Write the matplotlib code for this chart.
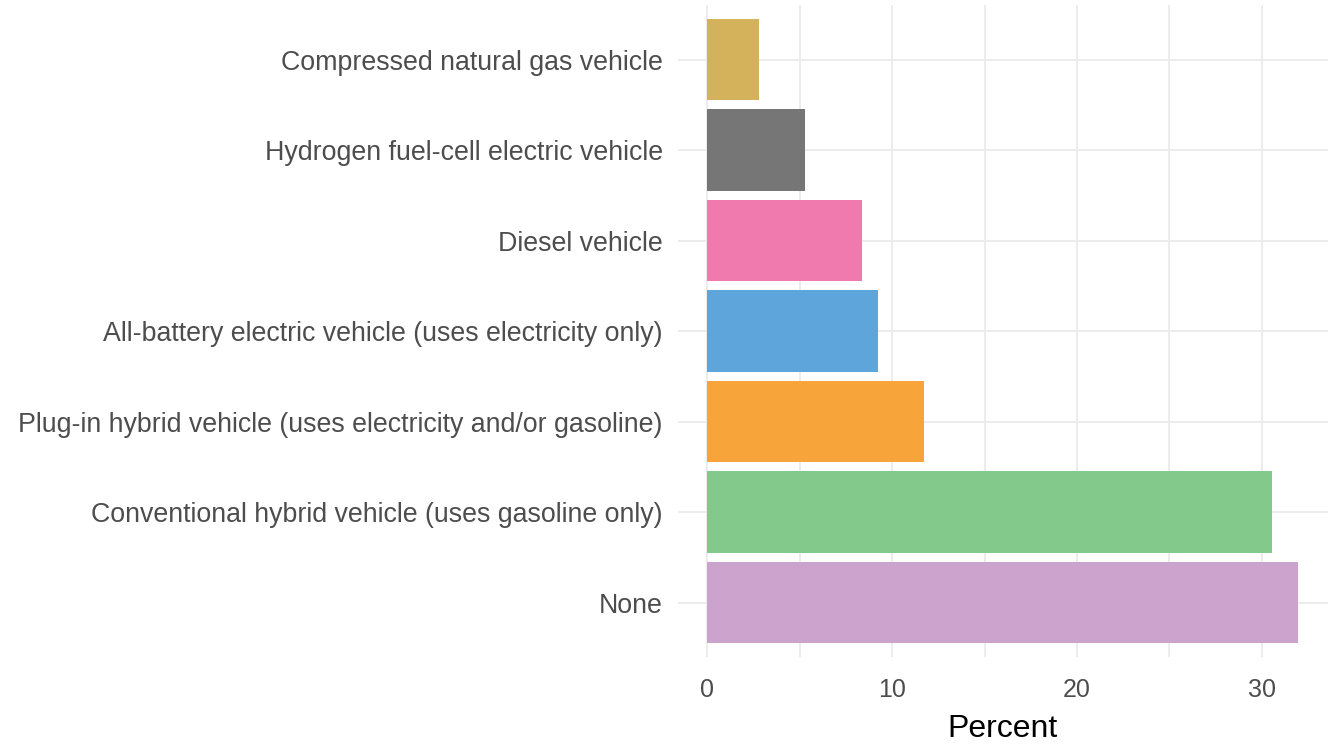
import matplotlib
matplotlib.use("Agg")
import matplotlib.pyplot as plt
from matplotlib.ticker import MultipleLocator

# Categories from bottom to top, as they appear on the chart
vehicles = [
    "None",
    "Conventional hybrid vehicle (uses gasoline only)",
    "Plug-in hybrid vehicle (uses electricity and/or gasoline)",
    "All-battery electric vehicle (uses electricity only)",
    "Diesel vehicle",
    "Hydrogen fuel-cell electric vehicle",
    "Compressed natural gas vehicle",
]
percent = [31.98, 30.54, 11.7, 9.22, 8.36, 5.29, 2.8]
bar_colors = ["#CCA3CC", "#84C98C", "#F7A53B", "#5DA5DA", "#F07AAE", "#767676", "#D4B25B"]

plt.rcParams['font.family'] = ['Liberation Sans', 'DejaVu Sans']

fig = plt.figure(figsize=(13.28, 7.44), dpi=100)
ax = fig.add_axes([0.5105, 0.117, 0.4895, 0.876])

ypos = list(range(len(vehicles)))
ax.barh(ypos, percent, height=0.9, color=bar_colors, zorder=3)

# ggplot-like expansion
xmax = max(percent)
ax.set_xlim(-0.05 * xmax, xmax * 1.05)
ax.set_ylim(-0.6, len(vehicles) - 1 + 0.6)

ax.set_yticks(ypos)
ax.set_yticklabels(vehicles)
ax.xaxis.set_major_locator(MultipleLocator(10))
ax.xaxis.set_minor_locator(MultipleLocator(5))

# minimal theme
for s in ax.spines.values():
    s.set_visible(False)
ax.grid(which='major', axis='both', color='#EBEBEB', linewidth=1.3, zorder=0)
ax.grid(which='minor', axis='x', color='#EBEBEB', linewidth=1.3, zorder=0)
ax.tick_params(which='both', length=0)
ax.tick_params(axis='y', pad=11, labelsize=19.3, labelcolor='#4D4D4D')
ax.tick_params(axis='x', pad=15, labelsize=18, labelcolor='#4D4D4D')

ax.set_xlabel("Percent", fontsize=23, color='black', labelpad=9)

fig.savefig("out.png", dpi=100, facecolor='white')
